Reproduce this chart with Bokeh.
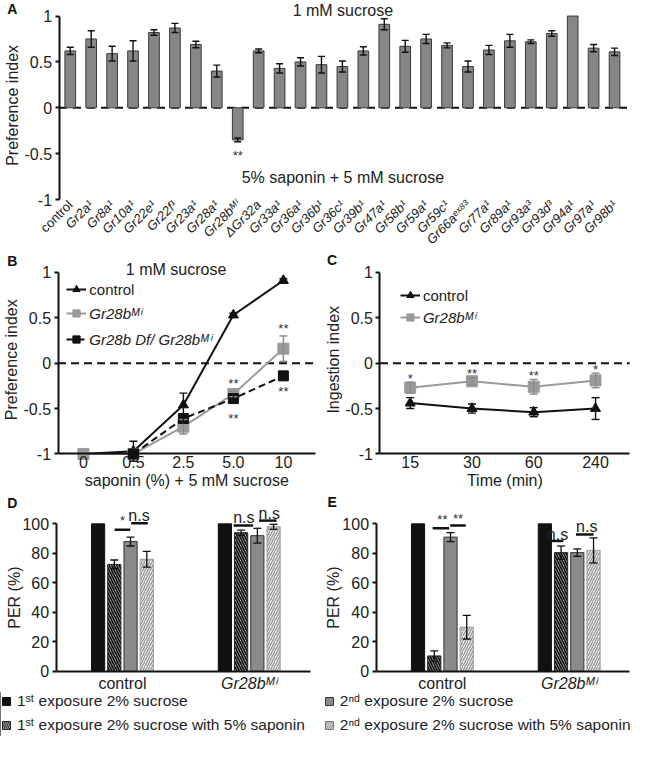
import math
from bokeh.plotting import figure
from bokeh.models import (ColumnDataSource, Whisker, TeeHead, Legend, LegendItem,
                          FixedTicker, Range1d, LinearAxis)
from bokeh.layouts import column, row
from bokeh.embed import file_html
from bokeh.resources import INLINE
from bokeh.core.properties import value

FONT = "Liberation Sans"

# ---------------- Panel A data ----------------
genotypes_a = ["control", "Gr2a¹", "Gr8a¹", "Gr10a¹", "Gr22e¹", "Gr22f¹", "Gr23a¹", "Gr28a¹",
               "Gr28bᴹⁱ", "ΔGr32a", "Gr33a¹", "Gr36a¹", "Gr36b¹", "Gr36c¹", "Gr39b¹", "Gr47a¹",
               "Gr58b¹", "Gr59a¹", "Gr59c¹", "Gr66aᵉˣ⁸³", "Gr77a¹", "Gr89a¹", "Gr93a³", "Gr93d³",
               "Gr94a¹", "Gr97a¹", "Gr98b¹"]
pref_a = [0.62, 0.75, 0.59, 0.62, 0.82, 0.87, 0.69, 0.40, -0.35, 0.62, 0.43, 0.50, 0.47, 0.45,
          0.62, 0.91, 0.67, 0.75, 0.68, 0.45, 0.63, 0.73, 0.72, 0.81, 1.00, 0.65, 0.61]
pref_a_err = [0.04, 0.09, 0.08, 0.11, 0.03, 0.05, 0.035, 0.065, 0.02, 0.02, 0.05, 0.045, 0.09, 0.06,
              0.045, 0.06, 0.065, 0.05, 0.027, 0.06, 0.05, 0.07, 0.02, 0.03, 0.0, 0.04, 0.04]

# ---------------- Panel B data ----------------
saponin_labels = ["0", "0.5", "2.5", "5.0", "10"]
ctrl_b = [-1.00, -0.97, -0.46, 0.53, 0.91]
ctrl_b_err = [0.0, 0.11, 0.13, 0.02, 0.02]
mi_b = [-1.00, -1.00, -0.70, -0.34, 0.16]
mi_b_err = [0.0, 0.0, 0.08, 0.03, 0.14]
df_b = [float("nan"), -1.00, -0.61, -0.39, -0.14]
df_b_err = [0.0, 0.0, 0.05, 0.05, 0.02]

# ---------------- Panel C data ----------------
time_labels = ["15", "30", "60", "240"]
ctrl_c = [-0.44, -0.50, -0.54, -0.50]
ctrl_c_err = [0.06, 0.05, 0.05, 0.12]
mi_c = [-0.27, -0.20, -0.26, -0.19]
mi_c_err = [0.06, 0.04, 0.08, 0.08]
stars_c = ["*", "**", "**", "*"]

# ---------------- Panels D / E data ----------------
groups_de = ["control", "Gr28bᴹⁱ"]
first_suc_d = [100, 100]
first_sap_d = [72.5, 94.0]
first_sap_d_err = [3.0, 1.8]
second_suc_d = [88.0, 92.0]
second_suc_d_err = [3.0, 5.0]
second_sap_d = [76.0, 98.0]
second_sap_d_err = [5.3, 1.7]

first_suc_e = [100, 100]
first_sap_e = [10.5, 80.5]
first_sap_e_err = [3.5, 4.5]
second_suc_e = [91.0, 80.5]
second_suc_e_err = [3.0, 2.5]
second_sap_e = [30.0, 82.0]
second_sap_e_err = [8.0, 8.5]

signif_d = [("*", "n.s"), ("n.s", "n.s")]
signif_e = [("**", "**"), ("n.s", "n.s")]

legend_labels = ["1ˢᵗ exposure 2% sucrose", "1ˢᵗ exposure 2% sucrose with 5% saponin",
                 "2ⁿᵈ exposure 2% sucrose", "2ⁿᵈ exposure 2% sucrose with 5% saponin"]

INK = "#111111"
TXT = "#222222"
GREY_LINE = "#9a9a9a"
SX = 636 / 652
SY = 736 / 758
ITEM_H = 18


def X(r):
    return r * SX


def Y(r):
    return r * SY


class Panel:
    """A figure whose frame fills its whole canvas; xa / ya tie data values to
    pixel positions of the reference picture."""

    def __init__(self, ox, oy, w, h, xa, ya):
        self.ox, self.oy, self.w, self.h = ox, oy, w, h
        self.xa, self.ya = xa, ya
        xr = Range1d(self.fx(ox / SX), self.fx((ox + w) / SX))
        yr = Range1d(self.fy((oy + h) / SY), self.fy(oy / SY))
        p = figure(width=w, height=h, x_range=xr, y_range=yr, output_backend="svg",
                   toolbar_location=None, x_axis_location=None, y_axis_location=None,
                   min_border_left=0, min_border_right=0, min_border_top=0,
                   min_border_bottom=0)
        p.xgrid.visible = False
        p.ygrid.visible = False
        p.outline_line_color = None
        p.background_fill_color = "white"
        p.border_fill_color = "white"
        self.p = p

    def fx(self, r):
        d1, r1, d2, r2 = self.xa
        return d1 + (r - r1) * (d2 - d1) / (r2 - r1)

    def fy(self, r):
        d1, r1, d2, r2 = self.ya
        return d1 + (r - r1) * (d2 - d1) / (r2 - r1)

    @property
    def dx(self):  # data per reference pixel along x
        d1, r1, d2, r2 = self.xa
        return (d2 - d1) / (r2 - r1)

    @property
    def dy(self):  # data change for one canvas pixel downwards
        d1, r1, d2, r2 = self.ya
        return (d2 - d1) / ((r2 - r1) * SY)

    def leg_loc(self, ref_left, ref_center_first, n, spacing):
        top = Y(ref_center_first) - ITEM_H / 2 - self.oy
        height = n * ITEM_H + (n - 1) * spacing
        return (X(ref_left) - self.ox, self.h - (top + height))

    def text(self, xs, ys, tx, size="16px", color=TXT, style="normal", align="center",
             baseline="middle", angle=0.0):
        self.p.text(x=xs, y=ys, text=tx, text_font=value(FONT), text_font_size=size,
                    text_color=color, text_font_style=style, text_align=align,
                    text_baseline=baseline, angle=angle)

    def letter(self, rx, ry, t):
        self.text([self.fx(rx)], [self.fy(ry)], [t], size="14px", color=INK, style="bold")

    def yaxis(self, at_ref, ticks, overrides, bounds, size="16px"):
        ax = LinearAxis(fixed_location=self.fx(at_ref), ticker=FixedTicker(ticks=ticks),
                        major_label_overrides=overrides, bounds=bounds)
        ax.axis_line_width = 2
        ax.axis_line_color = INK
        ax.major_tick_out = 4
        ax.major_tick_in = 0
        ax.major_tick_line_width = 2
        ax.major_tick_line_color = INK
        ax.minor_tick_line_color = None
        ax.major_label_text_font = FONT
        ax.major_label_text_font_size = size
        ax.major_label_text_color = TXT
        ax.major_label_standoff = 3
        self.p.add_layout(ax, "left")
        return ax

    def xaxis(self, at, ticks, overrides, bounds=None, line=True, size="16px",
              style="normal", standoff=3):
        ax = LinearAxis(fixed_location=at, ticker=FixedTicker(ticks=ticks),
                        major_label_overrides=overrides)
        if bounds is not None:
            ax.bounds = bounds
        ax.axis_line_width = 2
        ax.axis_line_color = INK if line else None
        ax.major_tick_out = 0
        ax.major_tick_in = 0
        ax.major_tick_line_color = None
        ax.minor_tick_line_color = None
        ax.major_label_text_font = FONT
        ax.major_label_text_font_size = size
        ax.major_label_text_font_style = style
        ax.major_label_text_color = TXT
        ax.major_label_standoff = standoff
        self.p.add_layout(ax, "below")
        return ax


def whiskers(p, xs, ys, errs, size=7, lw=1.5, color=INK):
    bx, up, lo = [], [], []
    for x, y, e in zip(xs, ys, errs):
        if e and e > 0 and not math.isnan(y):
            bx.append(x)
            up.append(y + e)
            lo.append(y - e)
    src = ColumnDataSource(dict(base=bx, upper=up, lower=lo))
    p.add_layout(Whisker(source=src, base="base", upper="upper", lower="lower",
                         line_color=color, line_width=lw, level="annotation",
                         upper_head=TeeHead(size=size, line_color=color, line_width=lw),
                         lower_head=TeeHead(size=size, line_color=color, line_width=lw)))


Y_TICKS = [-1, -0.5, 0, 0.5, 1]
Y_OVR = {-1: "-1", -0.5: "-0.5", 0: "0", 0.5: "0.5", 1: "1"}
LEG = dict(border_line_color=None, background_fill_alpha=0, padding=0, margin=0,
           label_height=ITEM_H, label_text_font=FONT, label_text_font_size="15px",
           label_text_color=TXT)
SP = 6

# ======================= Panel A =======================
A = Panel(0, 0, 636, 249, (0, 71.5, 26, 629.5), (1, 16, -1, 205))
pA = A.p
xa = list(range(len(genotypes_a)))
pA.line([A.fx(60), A.fx(643)], [0, 0], line_color=INK, line_width=2, line_dash="8 6")
pA.vbar(x=xa, top=pref_a, bottom=0, width=0.51, fill_color="#868686",
        line_color="#3a3a3a", line_width=1)
whiskers(pA, xa, pref_a, pref_a_err, size=7, lw=1.4)
A.yaxis(60, Y_TICKS, Y_OVR, (-1, 1))
ovr_a = {i: g for i, g in enumerate(genotypes_a)}
ovr_a[0] = ""
ax_a = A.xaxis(-1, xa, ovr_a, line=False, size="13px", style="italic", standoff=3)
ax_a.major_label_orientation = math.pi / 4
A.text([0], [-1 + 3 * A.dy], [genotypes_a[0]], size="13px", align="right",
       angle=math.pi / 4)
A.text([A.fx(12)], [A.fy(108)], ["Preference index"], angle=math.pi / 2)
A.text([A.fx(351)], [A.fy(10)], ["1 mM sucrose"])
A.text([A.fx(351)], [A.fy(182)], ["5% saponin + 5 mM sucrose"])
A.text([8], [A.fy(157) + 3 * A.dy], ["**"], size="13px", color="#333333")
A.letter(12, 9, "A")

# ======================= Panel B =======================
B = Panel(0, 249, 320, 242, (0, 85, 4, 290), (1, 280, -1, 467))
pB = B.p
xb = list(range(len(saponin_labels)))
pB.line([B.fx(59), B.fx(323)], [0, 0], line_color=INK, line_width=2, line_dash="8 5")
whiskers(pB, xb, ctrl_b, ctrl_b_err, size=8, lw=1.4)
whiskers(pB, xb, mi_b, mi_b_err, size=8, lw=1.4, color="#8a8a8a")
whiskers(pB, xb, df_b, df_b_err, size=8, lw=1.4)
lc = pB.line(xb, ctrl_b, line_color=INK, line_width=2)
sc = pB.scatter(xb, ctrl_b, marker="triangle", size=10, fill_color=INK, line_color=INK)
lm = pB.line(xb, mi_b, line_color=GREY_LINE, line_width=2)
sm = pB.scatter(xb, mi_b, marker="square", size=11, fill_color=GREY_LINE, line_color=GREY_LINE)
ld = pB.line(xb, df_b, line_color=INK, line_width=2, line_dash="7 4")
sd = pB.scatter(xb, df_b, marker="square", size=10, fill_color=INK, line_color=INK)
B.yaxis(59, Y_TICKS, Y_OVR, (-1, 1))
B.xaxis(-1, xb, {i: s for i, s in enumerate(saponin_labels)},
        bounds=(B.fx(59), B.fx(323)), standoff=2)
B.text([B.fx(11)], [B.fy(370)], ["Preference index"], angle=math.pi / 2)
B.text([B.fx(191)], [B.fy(494)], ["saponin (%) + 5 mM sucrose"])
B.text([B.fx(180)], [B.fy(277)], ["1 mM sucrose"])
B.text([3, 3, 4, 4], [v + 3 * B.dy for v in (-0.19, -0.58, 0.42, -0.28)], ["**"] * 4,
       size="13px", color="#333333")
legB = dict(LEG, glyph_height=ITEM_H, glyph_width=20, label_standoff=3)
pB.add_layout(Legend(items=[LegendItem(label="control", renderers=[lc, sc])],
                     location=B.leg_loc(68, 298, 1, 0), **legB), "center")
pB.add_layout(Legend(items=[LegendItem(label="Gr28bᴹⁱ", renderers=[lm, sm]),
                            LegendItem(label="Gr28b Df/ Gr28bᴹⁱ", renderers=[ld, sd])],
                     location=B.leg_loc(68, 325, 2, SP), spacing=SP,
                     label_text_font_style="italic", **legB), "center")
B.letter(12, 268, "B")

# ======================= Panel C =======================
C = Panel(320, 249, 316, 242, (0, 420, 3, 610), (1, 280, -1, 467))
pC = C.p
xc = list(range(len(time_labels)))
pC.line([C.fx(389), C.fx(645)], [0, 0], line_color=INK, line_width=2, line_dash="8 5")
whiskers(pC, xc, ctrl_c, ctrl_c_err, size=8, lw=1.4)
whiskers(pC, xc, mi_c, mi_c_err, size=8, lw=1.4, color="#8a8a8a")
lc2 = pC.line(xc, ctrl_c, line_color=INK, line_width=2)
sc2 = pC.scatter(xc, ctrl_c, marker="triangle", size=10, fill_color=INK, line_color=INK)
lm2 = pC.line(xc, mi_c, line_color=GREY_LINE, line_width=2)
sm2 = pC.scatter(xc, mi_c, marker="square", size=11, fill_color=GREY_LINE, line_color=GREY_LINE)
C.yaxis(389, Y_TICKS, Y_OVR, (-1, 1))
C.xaxis(-1, xc, {i: s for i, s in enumerate(time_labels)},
        bounds=(C.fx(389), C.fx(645)), standoff=2)
C.text([C.fx(341)], [C.fy(370)], ["Ingestion index"], angle=math.pi / 2)
C.text([C.fx(517)], [C.fy(494)], ["Time (min)"])
star_y = [m + e + 0.075 + 3 * C.dy for m, e in zip(mi_c, mi_c_err)]
C.text(xc, star_y, stars_c, size="13px", color="#333333")
pC.add_layout(Legend(items=[LegendItem(label="control", renderers=[lc2, sc2])],
                     location=C.leg_loc(410, 304, 1, 0), **legB), "center")
pC.add_layout(Legend(items=[LegendItem(label="Gr28bᴹⁱ", renderers=[lm2, sm2])],
                     location=C.leg_loc(410, 327, 1, 0), label_text_font_style="italic",
                     **legB), "center")
C.letter(340, 267, "C")

# ======================= Panels D / E =======================
OFFS = [-0.192, -0.064, 0.064, 0.192]
BW = 0.104


def bar_set(P, s1, s2, e2, s3, e3, s4, e4):
    p = P.p
    gx = [g + 0.5 for g in range(len(groups_de))]
    x1 = [g + OFFS[0] for g in gx]
    x2 = [g + OFFS[1] for g in gx]
    x3 = [g + OFFS[2] for g in gx]
    x4 = [g + OFFS[3] for g in gx]
    p.vbar(x=x1, top=s1, bottom=0, width=BW, fill_color=INK, line_color=INK)
    p.vbar(x=x2, top=s2, bottom=0, width=BW, fill_color="white", line_color="#222222",
           line_width=1, hatch_pattern="\\", hatch_color=INK, hatch_weight=1.8, hatch_scale=5)
    p.vbar(x=x3, top=s3, bottom=0, width=BW, fill_color="#8a8a8a", line_color="#333333",
           line_width=1)
    p.vbar(x=x4, top=s4, bottom=0, width=BW, fill_color="white", line_color="#9a9a9a",
           line_width=1, hatch_pattern="/", hatch_color="#9a9a9a", hatch_weight=1.5,
           hatch_scale=5)
    whiskers(p, x2, s2, e2, size=8, lw=1.3)
    whiskers(p, x3, s3, e3, size=8, lw=1.3)
    whiskers(p, x4, s4, e4, size=8, lw=1.3)


def sig(P, g, labels, seg1, seg2, t1, t2):
    """seg = (left px, right px, y) relative to the group centre; t = (px, y)."""
    c = g + 0.5
    k = P.dx
    P.p.segment(x0=[c + seg1[0] * k, c + seg2[0] * k], y0=[seg1[2], seg2[2]],
                x1=[c + seg1[1] * k, c + seg2[1] * k], y1=[seg1[2], seg2[2]],
                line_color=INK, line_width=2.5)
    for t, (px, yy) in zip(labels, (t1, t2)):
        if "*" in t:
            P.text([c + px * k], [yy + 3 * P.dy], [t], size="13px", color="#333333")
        else:
            P.text([c + px * k], [yy], [t], size="16px")


def de_axes(P, axis_left, axis_right, label_x):
    P.yaxis(axis_left, [0, 20, 40, 60, 80, 100], {}, (0, 100))
    P.xaxis(0, [0.5, 1.5], {0.5: groups_de[0], 1.5: ""},
            bounds=(P.fx(axis_left), P.fx(axis_right)), standoff=4)
    P.text([1.5], [4 * P.dy], [groups_de[1]], style="italic", baseline="top")
    P.text([P.fx(label_x)], [P.fy(615)], ["PER (%)"], angle=math.pi / 2)


D = Panel(0, 491, 318, 201, (0.5, 125, 1.5, 255), (100, 539, 0, 691))
bar_set(D, first_suc_d, first_sap_d, first_sap_d_err, second_suc_d, second_suc_d_err,
        second_sap_d, second_sap_d_err)
de_axes(D, 57, 318, 14)
sig(D, 0, signif_d[0], (-8, 8, 96), (9, 26, 100.4), (0, 104), (17, 106))
sig(D, 1, signif_d[1], (-16, 4, 98.9), (10, 28, 102.2), (-5.5, 104.6), (20.5, 107))
D.letter(12, 518, "D")

E = Panel(318, 491, 318, 201, (0.5, 453, 1.5, 583), (100, 539, 0, 691))
bar_set(E, first_suc_e, first_sap_e, first_sap_e_err, second_suc_e, second_suc_e_err,
        second_sap_e, second_sap_e_err)
de_axes(E, 385, 645, 341)
sig(E, 0, signif_e[0], (-10, 7, 97.1), (8, 24, 98.9), (0, 104.8), (16, 105.9))
sig(E, 1, signif_e[1], (-23, -6, 88.4), (7, 25, 92.8), (-12, 92.8), (18, 98.3))
E.letter(340, 517, "E")

# ======================= Shared legend =======================
L = Panel(0, 692, 636, 44, (0, 0, 1, 652), (0, 758, 1, 0))
pL = L.p
r1 = pL.vbar(x=[-5], top=[1], width=0.1, fill_color=INK, line_color=INK)
r2 = pL.vbar(x=[-5], top=[1], width=0.1, fill_color="white", line_color="#222222",
             hatch_pattern="\\", hatch_color=INK, hatch_weight=1.3, hatch_scale=4.5)
r3 = pL.vbar(x=[-5], top=[1], width=0.1, fill_color="#8a8a8a", line_color="#333333")
r4 = pL.vbar(x=[-5], top=[1], width=0.1, fill_color="white", line_color="#777777",
             hatch_pattern="/", hatch_color="#777777", hatch_weight=1.1, hatch_scale=4.5)
legL = dict(LEG, glyph_height=10, glyph_width=10, label_standoff=6)
legL["label_text_font_size"] = "15.5px"
pL.add_layout(Legend(items=[LegendItem(label=legend_labels[0], renderers=[r1]),
                            LegendItem(label=legend_labels[1], renderers=[r2])],
                     location=L.leg_loc(1, 722, 2, SP), spacing=SP, **legL), "center")
pL.add_layout(Legend(items=[LegendItem(label=legend_labels[2], renderers=[r3]),
                            LegendItem(label=legend_labels[3], renderers=[r4])],
                     location=L.leg_loc(332, 722, 2, SP), spacing=SP, **legL), "center")

layout = column(pA, row(pB, pC), row(D.p, E.p), pL)
open("out.html", "w").write(file_html(layout, INLINE))
